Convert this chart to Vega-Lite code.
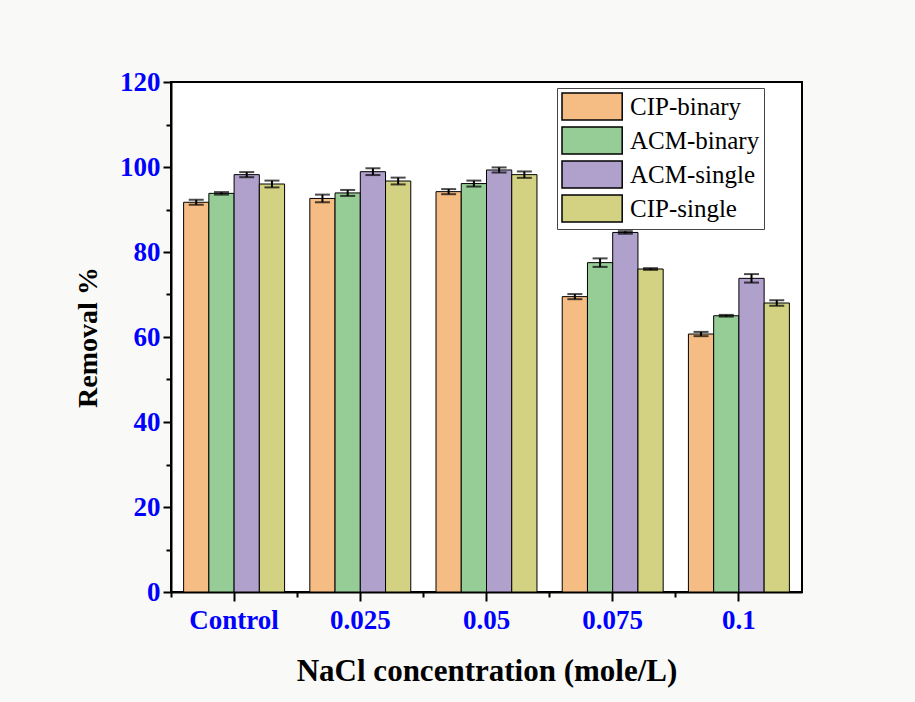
{
  "$schema": "https://vega.github.io/schema/vega-lite/v6.json",
  "width": 631,
  "height": 510,
  "autosize": "none",
  "padding": {"left": 171, "top": 82, "right": 113, "bottom": 110},
  "background": "#f9f9f7",
  "config": {
    "font": "Liberation Serif",
    "view": {"fill": "white", "stroke": "black", "strokeWidth": 2},
    "axis": {
      "grid": false,
      "domainColor": "black",
      "domainWidth": 2,
      "tickColor": "black",
      "tickWidth": 2,
      "labelFont": "Liberation Serif",
      "labelFontWeight": "bold",
      "labelColor": "#0000ff",
      "titleFont": "Liberation Serif",
      "titleFontWeight": "bold",
      "titleColor": "black"
    },
    "legend": {
      "orient": "none",
      "legendX": 386,
      "legendY": 6,
      "padding": 4,
      "fillColor": "white",
      "strokeColor": "#444444",
      "strokeWidth": 1,
      "labelFont": "Liberation Serif",
      "labelFontSize": 25,
      "labelColor": "black",
      "labelOffset": 40,
      "rowPadding": 1,
      "symbolType": "M-1,-1H3.46V1H-1Z",
      "symbolSize": 729,
      "symbolStrokeColor": "black",
      "symbolStrokeWidth": 1.5,
      "symbolOpacity": 1
    }
  },
  "data": {
    "values": [
      {"conc": "Control", "series": "CIP-binary", "removal": 91.7, "lo": 91.1, "hi": 92.3},
      {"conc": "Control", "series": "ACM-binary", "removal": 93.8, "lo": 93.5, "hi": 94.1},
      {"conc": "Control", "series": "ACM-single", "removal": 98.2, "lo": 97.6, "hi": 98.8},
      {"conc": "Control", "series": "CIP-single", "removal": 96.0, "lo": 95.2, "hi": 96.8},
      {"conc": "0.025", "series": "CIP-binary", "removal": 92.6, "lo": 91.7, "hi": 93.5},
      {"conc": "0.025", "series": "ACM-binary", "removal": 93.9, "lo": 93.2, "hi": 94.6},
      {"conc": "0.025", "series": "ACM-single", "removal": 98.9, "lo": 98.1, "hi": 99.7},
      {"conc": "0.025", "series": "CIP-single", "removal": 96.7, "lo": 95.9, "hi": 97.5},
      {"conc": "0.05", "series": "CIP-binary", "removal": 94.2, "lo": 93.6, "hi": 94.8},
      {"conc": "0.05", "series": "ACM-binary", "removal": 96.1, "lo": 95.4, "hi": 96.8},
      {"conc": "0.05", "series": "ACM-single", "removal": 99.3, "lo": 98.7, "hi": 99.9},
      {"conc": "0.05", "series": "CIP-single", "removal": 98.2, "lo": 97.45, "hi": 98.95},
      {"conc": "0.075", "series": "CIP-binary", "removal": 69.5, "lo": 68.9, "hi": 70.1},
      {"conc": "0.075", "series": "ACM-binary", "removal": 77.5, "lo": 76.5, "hi": 78.5},
      {"conc": "0.075", "series": "ACM-single", "removal": 84.6, "lo": 84.3, "hi": 84.9},
      {"conc": "0.075", "series": "CIP-single", "removal": 76.0, "lo": 75.8, "hi": 76.2},
      {"conc": "0.1", "series": "CIP-binary", "removal": 60.7, "lo": 60.2, "hi": 61.2},
      {"conc": "0.1", "series": "ACM-binary", "removal": 65.0, "lo": 64.8, "hi": 65.2},
      {"conc": "0.1", "series": "ACM-single", "removal": 73.8, "lo": 72.8, "hi": 74.8},
      {"conc": "0.1", "series": "CIP-single", "removal": 68.0, "lo": 67.35, "hi": 68.65}
    ]
  },
  "encoding": {
    "xOffset": {
      "field": "series",
      "type": "nominal",
      "sort": ["CIP-binary", "ACM-binary", "ACM-single", "CIP-single"],
      "scale": {"paddingInner": 0, "paddingOuter": 0.5}
    }
  },
  "layer": [
    {
      "mark": {"type": "bar", "stroke": "black", "strokeWidth": 1},
      "encoding": {
        "x": {
          "field": "conc",
          "type": "nominal",
          "sort": null,
          "scale": {"paddingInner": 0, "paddingOuter": 0},
          "axis": {
            "orient": "bottom",
            "title": "NaCl concentration (mole/L)",
            "titleFontSize": 31,
            "titlePadding": 23,
            "labelAngle": 0,
            "labelFontSize": 27,
            "labelPadding": 6,
            "tickSize": 9
          }
        },
        "y": {
          "field": "removal",
          "type": "quantitative",
          "scale": {"domain": [0, 120], "nice": false},
          "title": "Removal %",
          "axis": {
            "values": [0, 10, 20, 30, 40, 50, 60, 70, 80, 90, 100, 110, 120],
            "labelExpr": "datum.value % 20 === 0 ? datum.label : ''",
            "tickSize": {"condition": {"test": "datum.value % 20 === 0", "value": 8}, "value": 5},
            "labelFontSize": 27,
            "labelPadding": 3,
            "titleFontSize": 28,
            "titlePadding": 17
          }
        },
        "fill": {
          "field": "series",
          "type": "nominal",
          "sort": ["CIP-binary", "ACM-binary", "ACM-single", "CIP-single"],
          "scale": {
            "domain": ["CIP-binary", "ACM-binary", "ACM-single", "CIP-single"],
            "range": ["#f5bc84", "#96cc96", "#b0a0cc", "#d2d282"]
          },
          "legend": {"title": null}
        }
      }
    },
    {
      "mark": {"type": "rule", "color": "black", "strokeWidth": 2},
      "encoding": {
        "x": {
          "field": "conc",
          "type": "nominal",
          "sort": null,
          "axis": {
            "orient": "bottom",
            "bandPosition": 0,
            "labels": false,
            "domain": false,
            "title": null,
            "tickSize": 5
          }
        },
        "y": {"field": "lo", "type": "quantitative", "title": "Removal %"},
        "y2": {"field": "hi"}
      }
    },
    {
      "mark": {"type": "tick", "color": "black", "thickness": 2, "size": 15},
      "encoding": {
        "x": {"field": "conc", "type": "nominal", "sort": null, "axis": null},
        "y": {"field": "lo", "type": "quantitative", "title": "Removal %"}
      }
    },
    {
      "mark": {"type": "tick", "color": "black", "thickness": 2, "size": 15},
      "encoding": {
        "x": {"field": "conc", "type": "nominal", "sort": null, "axis": null},
        "y": {"field": "hi", "type": "quantitative", "title": "Removal %"}
      }
    }
  ],
  "resolve": {"axis": {"x": "independent"}}
}
